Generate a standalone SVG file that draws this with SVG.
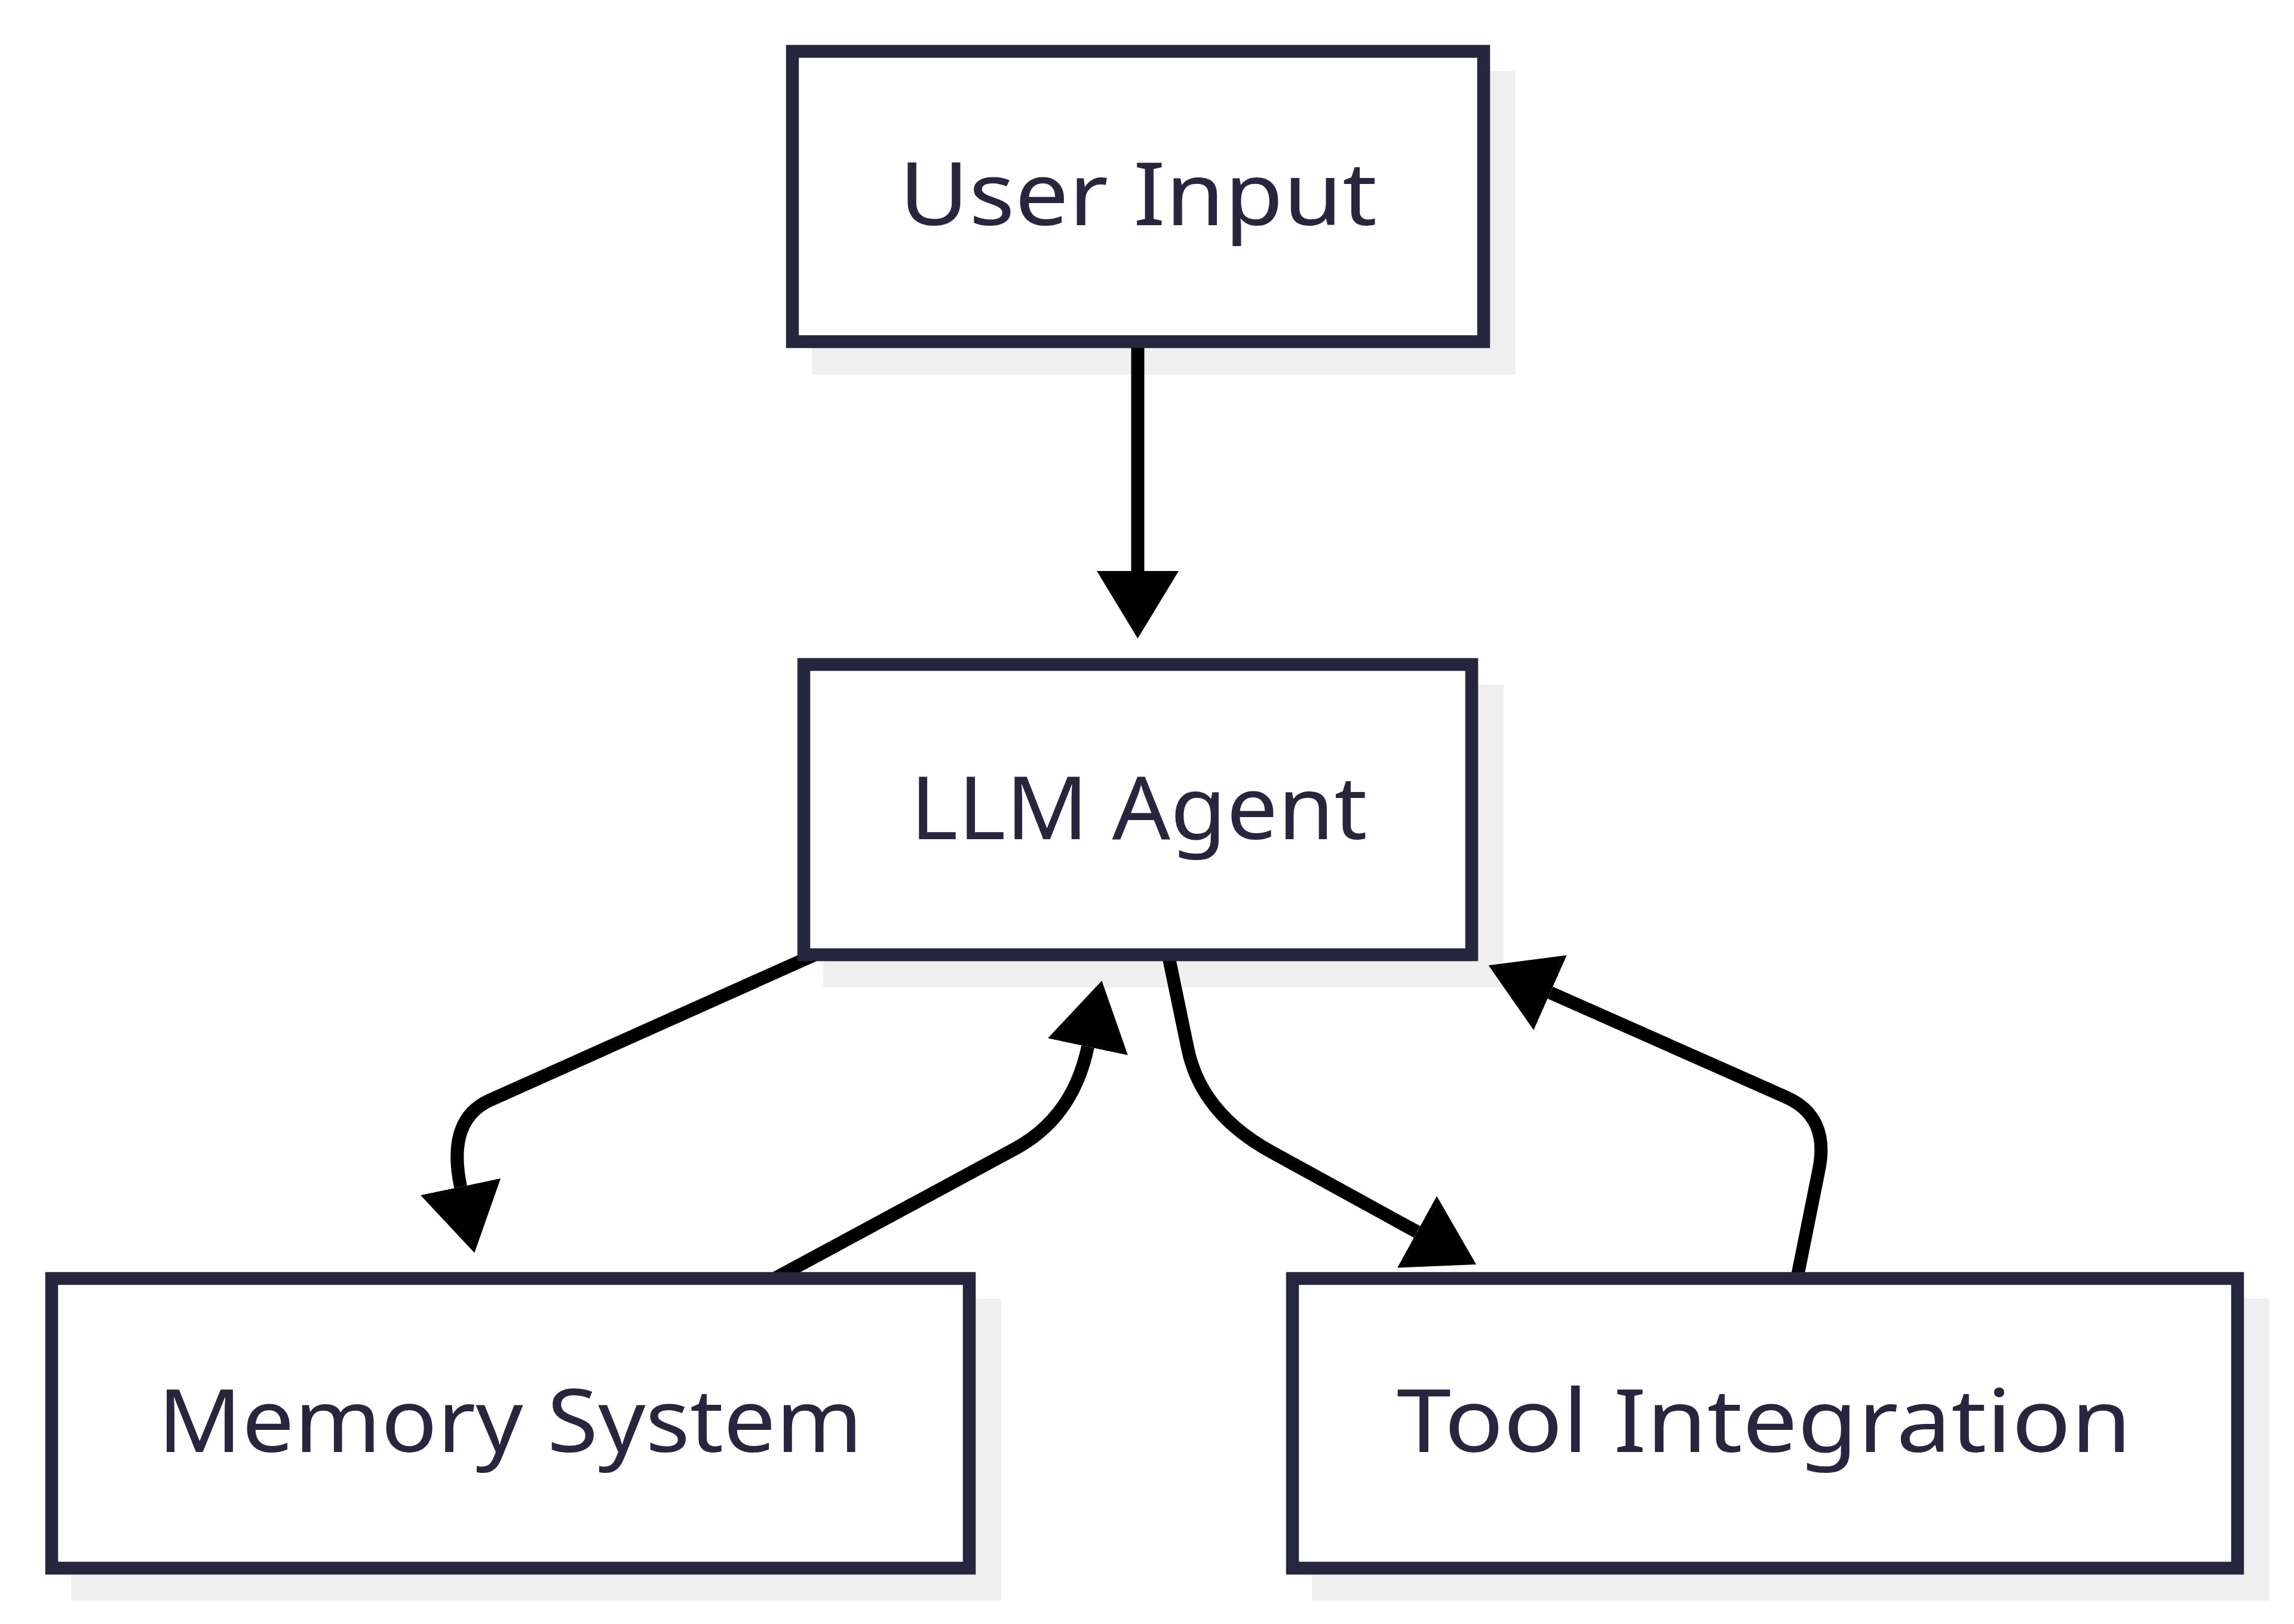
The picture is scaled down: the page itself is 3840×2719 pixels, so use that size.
<svg xmlns="http://www.w3.org/2000/svg" width="3840" height="2719" viewBox="0 0 3840 2719">
  <style>
    .shadow { fill: #efefef; stroke: none; }
    .box { fill: #ffffff; stroke: #27263f; stroke-width: 21.5; }
    .label { font-family: "Noto Sans", "DejaVu Sans", sans-serif; font-size: 146px; fill: #28263f; text-anchor: middle; }
    .edge { fill: none; stroke: #000000; stroke-width: 22; stroke-linecap: butt; stroke-linejoin: round; }
  </style>
  <defs>
    <marker id="arrow" markerUnits="userSpaceOnUse" markerWidth="113" markerHeight="137" viewBox="0 0 113 137" refX="0" refY="68.5" orient="auto">
      <path d="M0,0 L113,68.5 L0,137 Z" fill="#000000"/>
    </marker>
  </defs>
  <rect x="0" y="0" width="3840" height="2719" fill="#ffffff"/>

  <g id="shadows">
    <rect class="shadow" x="1359" y="119" width="1178" height="508"/>
    <rect class="shadow" x="1378" y="1146" width="1139" height="507"/>
    <rect class="shadow" x="119" y="2174" width="1557" height="506"/>
    <rect class="shadow" x="2196" y="2174" width="1603" height="506"/>
  </g>

  <g id="connectors">
    <path id="e-user-llm" class="edge" d="M1904.5,575 L1904.5,956" marker-end="url(#arrow)"/>
    <path id="e-llm-memory" class="edge" d="M1365,1598 L820.4,1841.9 Q747.4,1874.6 771,1987" marker-end="url(#arrow)"/>
    <path id="e-memory-llm" class="edge" d="M1296,2141 L1699.2,1923.3 Q1796,1871 1821,1752.5" marker-end="url(#arrow)"/>
    <path id="e-llm-tool" class="edge" d="M1955.5,1598 L1988.4,1756.4 Q2010.7,1864.1 2128.2,1928.6 L2372,2062.5" marker-end="url(#arrow)"/>
    <path id="e-tool-llm" class="edge" d="M3008,2141 L3044.9,1957.3 Q3062.5,1869 2989.3,1836.7 L2595,1662" marker-end="url(#arrow)"/>
  </g>

  <g id="node-user-input">
    <rect class="box" x="1326.5" y="86" width="1157" height="486"/>
    <text class="label" x="1905" y="377" textLength="800" lengthAdjust="spacingAndGlyphs">User Input</text>
  </g>

  <g id="node-llm-agent">
    <rect class="box" x="1345.5" y="1112.5" width="1118" height="486"/>
    <text class="label" x="1906" y="1404.5" textLength="765" lengthAdjust="spacingAndGlyphs">LLM Agent</text>
  </g>

  <g id="node-memory-system">
    <rect class="box" x="86.5" y="2140.5" width="1536" height="485"/>
    <text class="label" x="854" y="2431" textLength="1180" lengthAdjust="spacingAndGlyphs">Memory System</text>
  </g>

  <g id="node-tool-integration">
    <rect class="box" x="2163.5" y="2140.5" width="1582" height="485"/>
    <text class="label" x="2953" y="2431" textLength="1230" lengthAdjust="spacingAndGlyphs">Tool Integration</text>
  </g>
</svg>
